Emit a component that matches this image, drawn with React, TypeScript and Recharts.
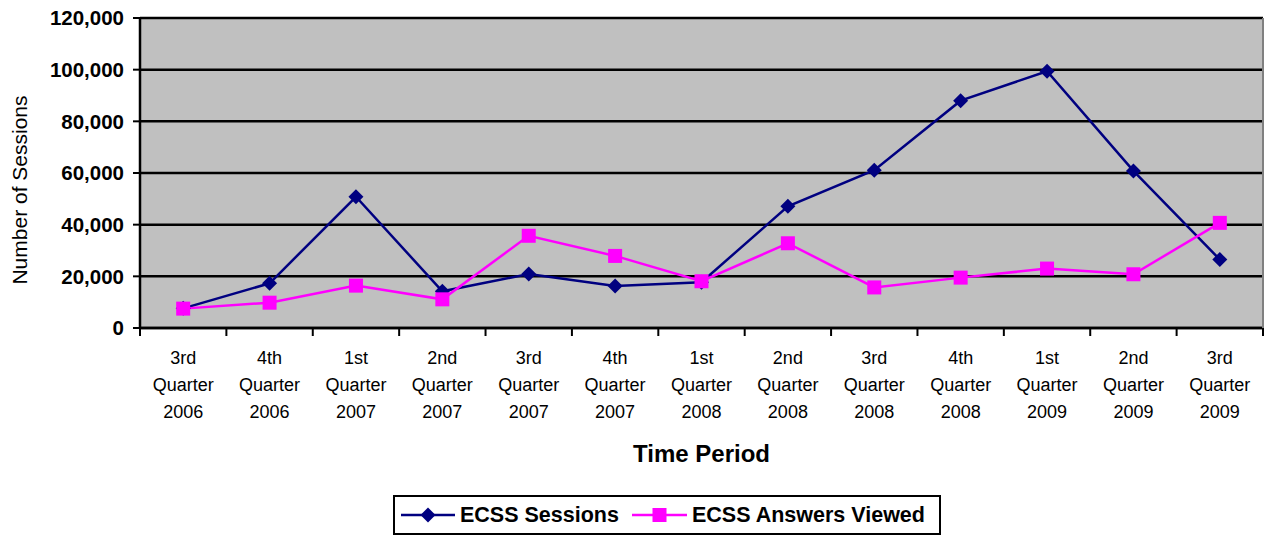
import React from 'react';
import { LineChart, Line, XAxis, YAxis, CartesianGrid, Legend } from 'recharts';

// quarters on the x axis
const quarters = [
  '3rd Quarter 2006', '4th Quarter 2006', '1st Quarter 2007', '2nd Quarter 2007',
  '3rd Quarter 2007', '4th Quarter 2007', '1st Quarter 2008', '2nd Quarter 2008',
  '3rd Quarter 2008', '4th Quarter 2008', '1st Quarter 2009', '2nd Quarter 2009',
  '3rd Quarter 2009',
];
const ecssSessions = [7600, 17300, 50800, 14200, 20900, 16300, 17700, 47100, 61100, 88000, 99400, 60800, 26500];
const ecssAnswersViewed = [7500, 9800, 16400, 11100, 35700, 27900, 18100, 32800, 15700, 19500, 23000, 20800, 40700];
const yTicks = [0, 20000, 40000, 60000, 80000, 100000, 120000];

const data = quarters.map((q, i) => ({
  name: q,
  sessions: ecssSessions[i],
  answers: ecssAnswersViewed[i],
}));

const W = 1264;
const H = 536;
const LEFT = 140;
const RIGHT = 1;
const BAND = (W - LEFT - RIGHT) / quarters.length;
const FONT = '"Liberation Sans", Arial, sans-serif';
const NAVY = '#000080';
const PINK = '#FF00FF';

function Diamond(props: any) {
  const { cx, cy, fill } = props;
  if (cx == null || cy == null) return null;
  const r = 7.5;
  return <path d={`M${cx},${cy - r}L${cx + r},${cy}L${cx},${cy + r}L${cx - r},${cy}Z`} fill={fill || NAVY} />;
}

function Square(props: any) {
  const { cx, cy, fill } = props;
  if (cx == null || cy == null) return null;
  const s = 7;
  return <rect x={cx - s} y={cy - s} width={s * 2} height={s * 2} fill={fill || PINK} />;
}

function QuarterTick(props: any) {
  const { x, y, payload, index } = props;
  const lines = String(payload.value).split(' ');
  const isLast = index === quarters.length - 1;
  return (
    <g>
      <line x1={x - BAND / 2} x2={x - BAND / 2} y1={y} y2={y + 8} stroke="#000" strokeWidth={2} />
      {isLast && <line x1={x + BAND / 2} x2={x + BAND / 2} y1={y} y2={y + 8} stroke="#000" strokeWidth={2} />}
      <text x={x} y={y} textAnchor="middle" fontFamily={FONT} fontSize={18} fill="#000">
        {lines.map((l, i) => (
          <tspan key={i} x={x} y={y + 36 + i * 27}>{l}</tspan>
        ))}
      </text>
    </g>
  );
}

function renderLegend() {
  const textStyle: React.CSSProperties = { fontFamily: FONT, fontWeight: 'bold', fontSize: 21.5, color: '#000', whiteSpace: 'nowrap' };
  return (
    <div style={{ display: 'flex', alignItems: 'center', border: '2px solid #000', height: 36, background: '#fff', paddingRight: 14 }}>
      <svg width={54} height={20} style={{ marginLeft: 6 }}>
        <line x1={0} x2={54} y1={10} y2={10} stroke={NAVY} strokeWidth={2.5} />
        <Diamond cx={27} cy={10} />
      </svg>
      <span style={{ ...textStyle, marginLeft: 5 }}>ECSS Sessions</span>
      <svg width={55} height={20} style={{ marginLeft: 13 }}>
        <line x1={0} x2={55} y1={10} y2={10} stroke={PINK} strokeWidth={2.5} />
        <Square cx={27.5} cy={10} />
      </svg>
      <span style={{ ...textStyle, marginLeft: 5 }}>ECSS Answers Viewed</span>
    </div>
  );
}

export default function App() {
  return (
    <div style={{ position: 'absolute', left: 0, top: 0, width: W, height: H, background: '#fff' }}>
      <LineChart width={W} height={H} data={data} margin={{ top: 18, right: 0, left: 0, bottom: 1 }}>
        <CartesianGrid vertical={false} fill="#C0C0C0" stroke="#000" strokeWidth={2.5} strokeOpacity={1} />
        <XAxis
          dataKey="name"
          scale="band"
          interval={0}
          height={167}
          tickSize={0}
          tickMargin={0}
          tickLine={false}
          tick={<QuarterTick />}
          axisLine={{ stroke: '#000', strokeWidth: 2.5 }}
          label={(p: any) => {
            const vb = p.viewBox || {};
            return (
              <text x={vb.x + vb.width / 2} y={462} textAnchor="middle" fontFamily={FONT} fontWeight="bold" fontSize={24} fill="#000">
                Time Period
              </text>
            );
          }}
        />
        <XAxis xAxisId="top" dataKey="name" scale="band" orientation="top" height={0} tick={false} tickLine={false} axisLine={{ stroke: '#808080', strokeWidth: 2.5 }} />
        <YAxis
          domain={[0, 120000]}
          ticks={yTicks}
          width={LEFT}
          tickSize={7}
          tickMargin={9}
          tickLine={{ stroke: '#000', strokeWidth: 2 }}
          axisLine={{ stroke: '#000', strokeWidth: 2.5 }}
          tick={{ fontFamily: FONT, fontWeight: 'bold', fontSize: 20.5, fill: '#000' }}
          tickFormatter={(v: number) => v.toLocaleString('en-US')}
          label={() => (
            <text x={27} y={190} transform="rotate(-90 27 190)" textAnchor="middle" fontFamily={FONT} fontSize={21} fill="#000">
              Number of Sessions
            </text>
          )}
        />
        <YAxis yAxisId="right" orientation="right" width={1} tick={false} tickLine={false} axisLine={{ stroke: '#808080', strokeWidth: 2 }} />
        <Legend verticalAlign="bottom" content={renderLegend} wrapperStyle={{ left: 393, bottom: 1, width: 'auto' }} />
        <Line
          dataKey="sessions"
          name="ECSS Sessions"
          stroke={NAVY}
          strokeWidth={2.5}
          dot={(p: any) => <Diamond key={`d-${p.index}`} cx={p.cx} cy={p.cy} />}
          activeDot={false}
          isAnimationActive={false}
        />
        <Line
          dataKey="answers"
          name="ECSS Answers Viewed"
          stroke={PINK}
          strokeWidth={2.5}
          dot={(p: any) => <Square key={`s-${p.index}`} cx={p.cx} cy={p.cy} />}
          activeDot={false}
          isAnimationActive={false}
        />
      </LineChart>
    </div>
  );
}
